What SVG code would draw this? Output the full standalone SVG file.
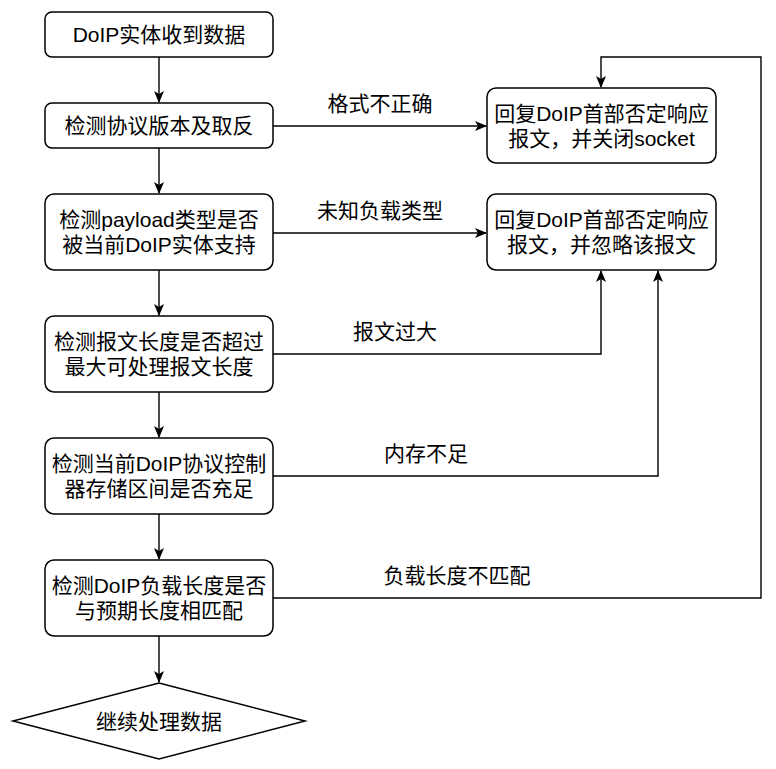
<svg xmlns="http://www.w3.org/2000/svg" width="776" height="769" viewBox="0 0 776 769">
<style>
.box{fill:#fff;stroke:#000;stroke-width:1.5}
.t{font-family:"Liberation Sans","Noto Sans CJK SC",sans-serif;font-size:21px;fill:#000;text-anchor:middle;dominant-baseline:central}
.e{fill:none;stroke:#000;stroke-width:1.4}
</style>
<defs>
<marker id="a" viewBox="0 0 12 10" refX="11" refY="5" markerWidth="12" markerHeight="10" markerUnits="userSpaceOnUse" orient="auto">
<path d="M0,0 L12,5 L0,10 L3,5 Z" fill="#000"/>
</marker>
</defs>
<rect width="776" height="769" fill="#fff"/>
<g id="connectors">
<path class="e" d="M159,57 V102" marker-end="url(#a)"/>
<path class="e" d="M159,148 V193" marker-end="url(#a)"/>
<path class="e" d="M159,270 V315" marker-end="url(#a)"/>
<path class="e" d="M159,392 V437" marker-end="url(#a)"/>
<path class="e" d="M159,514 V559" marker-end="url(#a)"/>
<path class="e" d="M159,636 V682" marker-end="url(#a)"/>
<path class="e" d="M273,126 H486" marker-end="url(#a)"/>
<path class="e" d="M273,233 H486" marker-end="url(#a)"/>
<path class="e" d="M273,354 H601 V271" marker-end="url(#a)"/>
<path class="e" d="M273,476 H658 V271" marker-end="url(#a)"/>
<path class="e" d="M273,598 H761 V57 H601 V87" marker-end="url(#a)"/>
<text class="t" x="380" y="103">格式不正确</text>
<text class="t" x="380" y="210">未知负载类型</text>
<text class="t" x="395" y="331">报文过大</text>
<text class="t" x="426" y="453">内存不足</text>
<text class="t" x="457" y="575">负载长度不匹配</text>
</g>
<g id="n1"><rect class="box" x="45" y="12" width="228" height="45" rx="7"/><text class="t" x="159" y="34.5">DoIP实体收到数据</text></g>
<g id="n2"><rect class="box" x="45" y="103" width="228" height="45" rx="7"/><text class="t" x="159" y="125.5">检测协议版本及取反</text></g>
<g id="n3"><rect class="box" x="45" y="194" width="228" height="76" rx="9"/><text class="t" x="159" y="219.5">检测payload类型是否</text><text class="t" x="159" y="244.5">被当前DoIP实体支持</text></g>
<g id="n4"><rect class="box" x="45" y="316" width="228" height="76" rx="9"/><text class="t" x="159" y="341.5">检测报文长度是否超过</text><text class="t" x="159" y="366.5">最大可处理报文长度</text></g>
<g id="n5"><rect class="box" x="45" y="438" width="228" height="76" rx="9"/><text class="t" x="159" y="463.5">检测当前DoIP协议控制</text><text class="t" x="159" y="488.5">器存储区间是否充足</text></g>
<g id="n6"><rect class="box" x="45" y="560" width="228" height="76" rx="9"/><text class="t" x="159" y="585.5">检测DoIP负载长度是否</text><text class="t" x="159" y="610.5">与预期长度相匹配</text></g>
<g id="n7"><path class="box" d="M159,683 L305,721 L159,759 L13,721 Z"/><text class="t" x="159" y="721">继续处理数据</text></g>
<g id="nA"><rect class="box" x="487" y="88" width="229" height="75" rx="9"/><text class="t" x="601.5" y="113">回复DoIP首部否定响应</text><text class="t" x="601.5" y="138">报文，并关闭socket</text></g>
<g id="nB"><rect class="box" x="487" y="194" width="229" height="76" rx="9"/><text class="t" x="601.5" y="219.5">回复DoIP首部否定响应</text><text class="t" x="601.5" y="244.5">报文，并忽略该报文</text></g>
</svg>
